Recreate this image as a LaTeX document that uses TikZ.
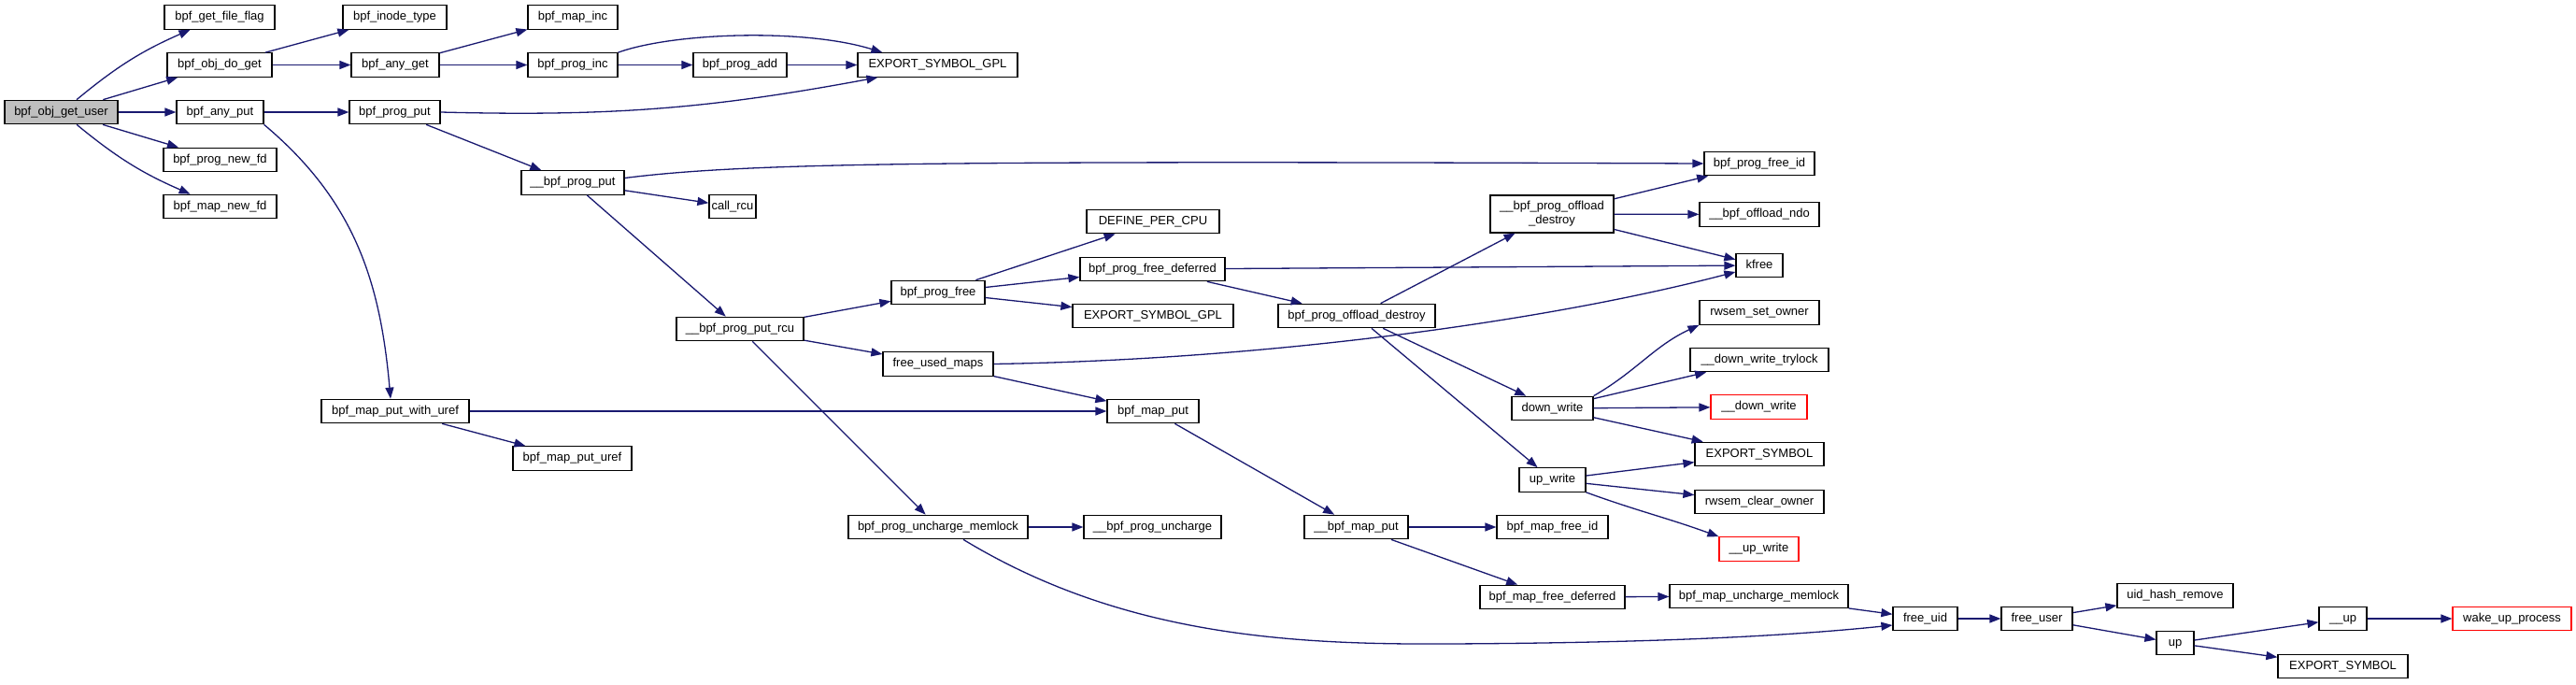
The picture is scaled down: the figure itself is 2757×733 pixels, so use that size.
\documentclass[tikz,border=0pt]{standalone}
\usepackage{fontspec}
\setmainfont{Liberation Sans}
\usepackage{tikz}
\usetikzlibrary{arrows.meta}
\definecolor{edgeBlue}{HTML}{191970}
\definecolor{rootGray}{HTML}{BFBFBF}
\definecolor{extRed}{HTML}{FF0000}
\tikzset{
  fn/.style={draw=black,fill=white,line width=1.2pt,minimum height=25.5pt,
    inner xsep=2pt,inner ysep=0pt,text height=9.5pt,text depth=3pt,
    font=\fontsize{13}{15}\selectfont,align=center},
  rootfn/.style={fn,fill=rootGray},
  extfn/.style={fn,draw=extRed},
  call/.style={-{Triangle[length=12pt,width=9pt]},line width=1.3pt,draw=edgeBlue}
}

\begin{document}
\begin{tikzpicture}[x=1pt,y=-1pt]
  \useasboundingbox (0,0) rectangle (2757,733);

  % column 0 and 1
  \node[rootfn, minimum width=121pt] (objgetuser) at (65.5,120) {bpf\_obj\_get\_user};
  \node[fn, minimum width=118pt] (getfileflag) at (235,18.5) {bpf\_get\_file\_flag};
  \node[fn, minimum width=112pt] (objdoget) at (235,69.5) {bpf\_obj\_do\_get};
  \node[fn, minimum width=93pt] (anyput) at (235.5,120) {bpf\_any\_put};
  \node[fn, minimum width=121pt] (prognewfd) at (235.5,171) {bpf\_prog\_new\_fd};
  \node[fn, minimum width=121pt] (mapnewfd) at (235.5,221) {bpf\_map\_new\_fd};

  % column 2 and 3
  \node[fn, minimum width=111pt] (inodetype) at (422.5,18.5) {bpf\_inode\_type};
  \node[fn, minimum width=94pt] (anyget) at (423,69.5) {bpf\_any\_get};
  \node[fn, minimum width=97pt] (progput) at (422.5,120) {bpf\_prog\_put};
  \node[fn, minimum width=158pt] (mapputwithuref) at (423,440) {bpf\_map\_put\_with\_uref};
  \node[fn, minimum width=96pt] (mapinc) at (613,18.5) {bpf\_map\_inc};
  \node[fn, minimum width=96pt] (proginc) at (613,69.5) {bpf\_prog\_inc};
  \node[fn, minimum width=110pt] (progputraw) at (613,195.5) {\_\_bpf\_prog\_put};
  \node[fn, minimum width=127pt] (mapputuref) at (612.5,490.5) {bpf\_map\_put\_uref};

  % column 4 and 5
  \node[fn, minimum width=100pt] (progadd) at (792,69.5) {bpf\_prog\_add};
  \node[fn, minimum width=50pt] (callrcu) at (784,221) {call\_rcu};
  \node[fn, minimum width=136pt] (progputrcu) at (792,352) {\_\_bpf\_prog\_put\_rcu};
  \node[fn, minimum width=171pt] (expgplA) at (1003.5,69.5) {EXPORT\_SYMBOL\_GPL};
  \node[fn, minimum width=100pt] (progfree) at (1004,313) {bpf\_prog\_free};
  \node[fn, minimum width=118pt] (freeusedmaps) at (1004,389.5) {free\_used\_maps};
  \node[fn, minimum width=192pt] (proguncharge) at (1004,564) {bpf\_prog\_uncharge\_memlock};

  % column 6 and 7
  \node[fn, minimum width=142pt] (definepercpu) at (1234,237) {DEFINE\_PER\_CPU};
  \node[fn, minimum width=155pt] (progfreedeferred) at (1233.5,288) {bpf\_prog\_free\_deferred};
  \node[fn, minimum width=172pt] (expgplB) at (1234,338) {EXPORT\_SYMBOL\_GPL};
  \node[fn, minimum width=98pt] (mapput) at (1234,440) {bpf\_map\_put};
  \node[fn, minimum width=147pt] (progunchargeraw) at (1233.5,564) {\_\_bpf\_prog\_uncharge};
  \node[fn, minimum width=168pt] (progoffloaddestroy) at (1452,338) {bpf\_prog\_offload\_destroy};
  \node[fn, minimum width=111pt] (mapputraw) at (1451.5,564) {\_\_bpf\_map\_put};

  % column 8
  \node[fn, minimum width=132pt, minimum height=40pt, text height=, text depth=]
    (offloaddestroyraw) at (1661,229) {\_\_bpf\_prog\_offload\\\_destroy};
  \node[fn, minimum width=87pt] (downwrite) at (1661.5,437) {down\_write};
  \node[fn, minimum width=71pt] (upwrite) at (1661.5,513.5) {up\_write};
  \node[fn, minimum width=119pt] (mapfreeid) at (1661.5,564) {bpf\_map\_free\_id};
  \node[fn, minimum width=155pt] (mapfreedeferred) at (1661.5,639) {bpf\_map\_free\_deferred};

  % column 9
  \node[fn, minimum width=118pt] (progfreeid) at (1883,175) {bpf\_prog\_free\_id};
  \node[fn, minimum width=128pt] (offloadndo) at (1883,229.5) {\_\_bpf\_offload\_ndo};
  \node[fn, minimum width=50pt] (kfree) at (1883,284) {kfree};
  \node[fn, minimum width=128pt] (rwsemsetowner) at (1883,334.5) {rwsem\_set\_owner};
  \node[fn, minimum width=148pt] (downwritetrylock) at (1883,385) {\_\_down\_write\_trylock};
  \node[extfn, minimum width=103pt] (downwriteraw) at (1882.5,435.5) {\_\_down\_write};
  \node[fn, minimum width=138pt] (exportsymA) at (1883,486) {EXPORT\_SYMBOL};
  \node[fn, minimum width=138pt] (rwsemclearowner) at (1883,537) {rwsem\_clear\_owner};
  \node[extfn, minimum width=85pt] (upwriteraw) at (1882.5,587.5) {\_\_up\_write};
  \node[fn, minimum width=191pt] (mapunchargememlock) at (1882.5,638) {bpf\_map\_uncharge\_memlock};

  % columns 10 to 14
  \node[fn, minimum width=69pt] (freeuid) at (2060.5,662) {free\_uid};
  \node[fn, minimum width=76pt] (freeuser) at (2180,662) {free\_user};
  \node[fn, minimum width=124pt] (uidhashremove) at (2328,637.5) {uid\_hash\_remove};
  \node[fn, minimum width=40pt] (up) at (2328,688) {up};
  \node[fn, minimum width=51pt] (upraw) at (2507.5,662) {\_\_up};
  \node[fn, minimum width=139pt] (exportsymB) at (2507.5,713) {EXPORT\_SYMBOL};
  \node[extfn, minimum width=127pt] (wakeupprocess) at (2688.5,662) {wake\_up\_process};

  % calls
  \draw[call] (objgetuser) to[bend left=8] (getfileflag);
  \draw[call] (objgetuser) -- (objdoget);
  \draw[call] (objgetuser) -- (anyput);
  \draw[call] (objgetuser) -- (prognewfd);
  \draw[call] (objgetuser) to[bend right=8] (mapnewfd);
  \draw[call] (objdoget) -- (inodetype);
  \draw[call] (objdoget) -- (anyget);
  \draw[call] (anyget) -- (mapinc);
  \draw[call] (anyget) -- (proginc);
  \draw[call] (proginc) -- (progadd);
  \draw[call] (proginc.north east) .. controls (720,35) and (860,30) .. ([xshift=27pt]expgplA.north west);
  \draw[call] (progadd) -- (expgplA);
  \draw[call] (anyput) -- (progput);
  \draw[call] (anyput.south east) to[out=-40,in=95] ([xshift=-5pt]mapputwithuref.north);
  \draw[call] (progput.east) to[bend right=6] ([xshift=22pt]expgplA.south west);
  \draw[call] (progput) -- (progputraw);
  \draw[call] ([yshift=5pt]progputraw.east) .. controls (800,174) and (1000,172) .. (progfreeid.west);
  \draw[call] (progputraw) -- (callrcu);
  \draw[call] (progputraw) -- (progputrcu);
  \draw[call] (progputrcu) -- (progfree);
  \draw[call] (progputrcu) -- (freeusedmaps);
  \draw[call] (progputrcu) -- (proguncharge);
  \draw[call] (progfree) -- (definepercpu);
  \draw[call] (progfree) -- (progfreedeferred);
  \draw[call] (progfree) -- (expgplB);
  \draw[call] (progfreedeferred) -- (kfree);
  \draw[call] (progfreedeferred) -- (progoffloaddestroy);
  \draw[call] (progoffloaddestroy) -- (offloaddestroyraw);
  \draw[call] (progoffloaddestroy) -- (downwrite);
  \draw[call] (progoffloaddestroy) -- (upwrite);
  \draw[call] (offloaddestroyraw) -- (progfreeid);
  \draw[call] (offloaddestroyraw) -- (offloadndo);
  \draw[call] (offloaddestroyraw) -- (kfree);
  \draw[call] (freeusedmaps.east) .. controls (1350,385) and (1650,345) .. ([yshift=-7pt]kfree.west);
  \draw[call] (freeusedmaps) -- (mapput);
  \draw[call] (mapputwithuref) -- (mapput);
  \draw[call] (mapputwithuref) -- (mapputuref);
  \draw[call] (mapput) -- (mapputraw);
  \draw[call] (proguncharge) -- (progunchargeraw);
  \draw[call] ([xshift=27pt]proguncharge.south) .. controls (1200,680) and (1380,690) .. (1550,689)
    .. controls (1750,688) and (1900,682) .. ([yshift=-7pt]freeuid.west);
  \draw[call] (mapputraw) -- (mapfreeid);
  \draw[call] (mapputraw) -- (mapfreedeferred);
  \draw[call] (mapfreedeferred) -- (mapunchargememlock);
  \draw[call] (mapunchargememlock) -- (freeuid);
  \draw[call] (downwrite.north east) to[out=30,in=205] (rwsemsetowner.south west);
  \draw[call] (downwrite) -- (downwritetrylock);
  \draw[call] (downwrite) -- (downwriteraw);
  \draw[call] (downwrite) -- (exportsymA);
  \draw[call] (upwrite) -- (exportsymA);
  \draw[call] (upwrite) -- (rwsemclearowner);
  \draw[call] (upwrite.south east) to[out=-20,in=160] (upwriteraw.north west);
  \draw[call] (freeuid) -- (freeuser);
  \draw[call] (freeuser) -- (uidhashremove);
  \draw[call] (freeuser) -- (up);
  \draw[call] (up) -- (upraw);
  \draw[call] (up) -- (exportsymB);
  \draw[call] (upraw) -- (wakeupprocess);
\end{tikzpicture}
\end{document}
